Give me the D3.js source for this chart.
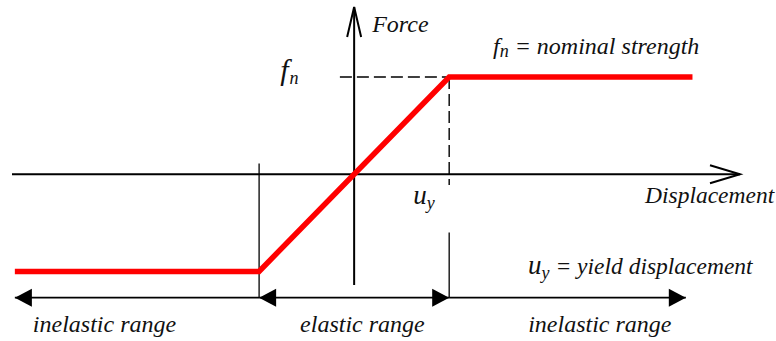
<!DOCTYPE html>
<html><head><meta charset="utf-8">
<script src="https://cdn.jsdelivr.net/npm/d3@7"></script>
<style>
html,body{margin:0;padding:0;background:#fff;}
svg{display:block;}
</style>
</head><body>
<svg id="chart" width="776" height="341"></svg>
<script>
// ---- data (normalised: displacement / u_y, force / f_n) ----
const displacement = [-3.57, -1, 1, 3.56];
const force = [-1, -1, 1, 1];
const rangeBounds = [-3.57, -1, 1, 3.49];
const rangeLabels = ["inelastic range", "elastic range", "inelastic range"];
const axisLabels = ["Displacement", "Force"];
const yieldDisp = 1;
const nominalForce = 1;

const svg = d3.select("#chart");
const x = d3.scaleLinear().domain([-3.6, 4.06]).range([12, 740]);
const y = d3.scaleLinear().domain([-1.14, 1.72]).range([285, 7]);
const x0 = x(0), y0 = y(0);
const dimY = y(-1.27);
const xEnd = x(4.06), yTop = y(1.72);

// axes
svg.append("line").attr("x1", x(-3.6)).attr("x2", xEnd).attr("y1", y0).attr("y2", y0)
  .attr("stroke", "#000").attr("stroke-width", 2);
svg.append("polyline").attr("points", `${xEnd-30},${y0-9} ${xEnd},${y0} ${xEnd-30},${y0+9}`)
  .attr("fill", "none").attr("stroke", "#000").attr("stroke-width", 2);
svg.append("line").attr("x1", x0).attr("x2", x0).attr("y1", y(-1.14)).attr("y2", yTop)
  .attr("stroke", "#000").attr("stroke-width", 2);
svg.append("polyline").attr("points", `${x0-7},${yTop+30} ${x0},${yTop} ${x0+7},${yTop+30}`)
  .attr("fill", "none").attr("stroke", "#000").attr("stroke-width", 2);

// dashed guides
svg.append("line").attr("x1", x(-0.15)).attr("x2", x(yieldDisp)).attr("y1", y(nominalForce)).attr("y2", y(nominalForce))
  .attr("stroke", "#000").attr("stroke-width", 1.4).attr("stroke-dasharray", "12,5");
svg.append("line").attr("x1", x(yieldDisp)).attr("x2", x(yieldDisp)).attr("y1", y(nominalForce)).attr("y2", y(-0.11))
  .attr("stroke", "#000").attr("stroke-width", 1.4).attr("stroke-dasharray", "12,5");

// extension lines
svg.append("line").attr("x1", x(yieldDisp)).attr("x2", x(yieldDisp)).attr("y1", y(-0.6)).attr("y2", dimY)
  .attr("stroke", "#000").attr("stroke-width", 1.3);
svg.append("line").attr("x1", x(-yieldDisp)).attr("x2", x(-yieldDisp)).attr("y1", y(0.11)).attr("y2", dimY)
  .attr("stroke", "#000").attr("stroke-width", 1.3);

// dimension lines with arrowheads
function arrowHead(tipX, dir) {
  const L = 17, H = 9;
  svg.append("polygon")
    .attr("points", `${tipX},${dimY} ${tipX - dir*L},${dimY-H} ${tipX - dir*L},${dimY+H}`)
    .attr("fill", "#000");
}
for (let i = 0; i < 3; i++) {
  const a = x(rangeBounds[i]), b = x(rangeBounds[i+1]);
  svg.append("line").attr("x1", a).attr("x2", b).attr("y1", dimY).attr("y2", dimY)
    .attr("stroke", "#000").attr("stroke-width", 1.8);
  if (i === 0 || i === 1) arrowHead(a, -1);
  if (i === 1 || i === 2) arrowHead(b, 1);
}

// red curve
const pts = displacement.map((d, i) => [d, force[i]]);
svg.append("path").datum(pts)
  .attr("d", d3.line().x(d => x(d[0])).y(d => y(d[1])))
  .attr("fill", "none").attr("stroke", "#ff0000").attr("stroke-width", 5.5)
  .attr("stroke-linejoin", "miter");

// labels
const fs = 24;
function label(px, py, size) {
  return svg.append("text").attr("x", px).attr("y", py)
    .style("font-family", '"Liberation Serif"').style("font-style", "italic")
    .attr("font-size", size).attr("fill", "#111");
}
label(x0 + 18, 32, fs).text(axisLabels[1]);
label(645, y0 + 29, 23.5).text(axisLabels[0]);

// left f_n
const fl = label(x0 - 74, y(nominalForce) + 3, 30);
fl.append("tspan").text("f");
fl.append("tspan").attr("font-size", 18).attr("dy", 4).attr("dx", 1).text("n");

// f_n = nominal strength
const fr = label(493, 54, fs);
fr.append("tspan").text("f");
fr.append("tspan").attr("font-size", 18).attr("dy", 3).text("n");
fr.append("tspan").attr("dy", -3).text(" = nominal strength");

// u_y near axis
const uy = label(x(yieldDisp) - 36, y0 + 30, 27);
uy.append("tspan").text("u");
uy.append("tspan").attr("font-size", 18).attr("dy", 5).text("y");

// u_y = yield displacement
const ud = label(528, 274, 27);
ud.append("tspan").text("u");
ud.append("tspan").attr("font-size", 18).attr("dy", 5).text("y");
ud.append("tspan").attr("font-size", 23.5).attr("dy", -5).text(" = yield displacement");

// range labels
const labelStarts = [x(rangeBounds[0]) + 18, x(rangeBounds[1]) + 41, x(rangeBounds[2]) + 79];
rangeLabels.forEach((t, i) => label(labelStarts[i], 332, fs).text(t));
</script>
</body></html>
